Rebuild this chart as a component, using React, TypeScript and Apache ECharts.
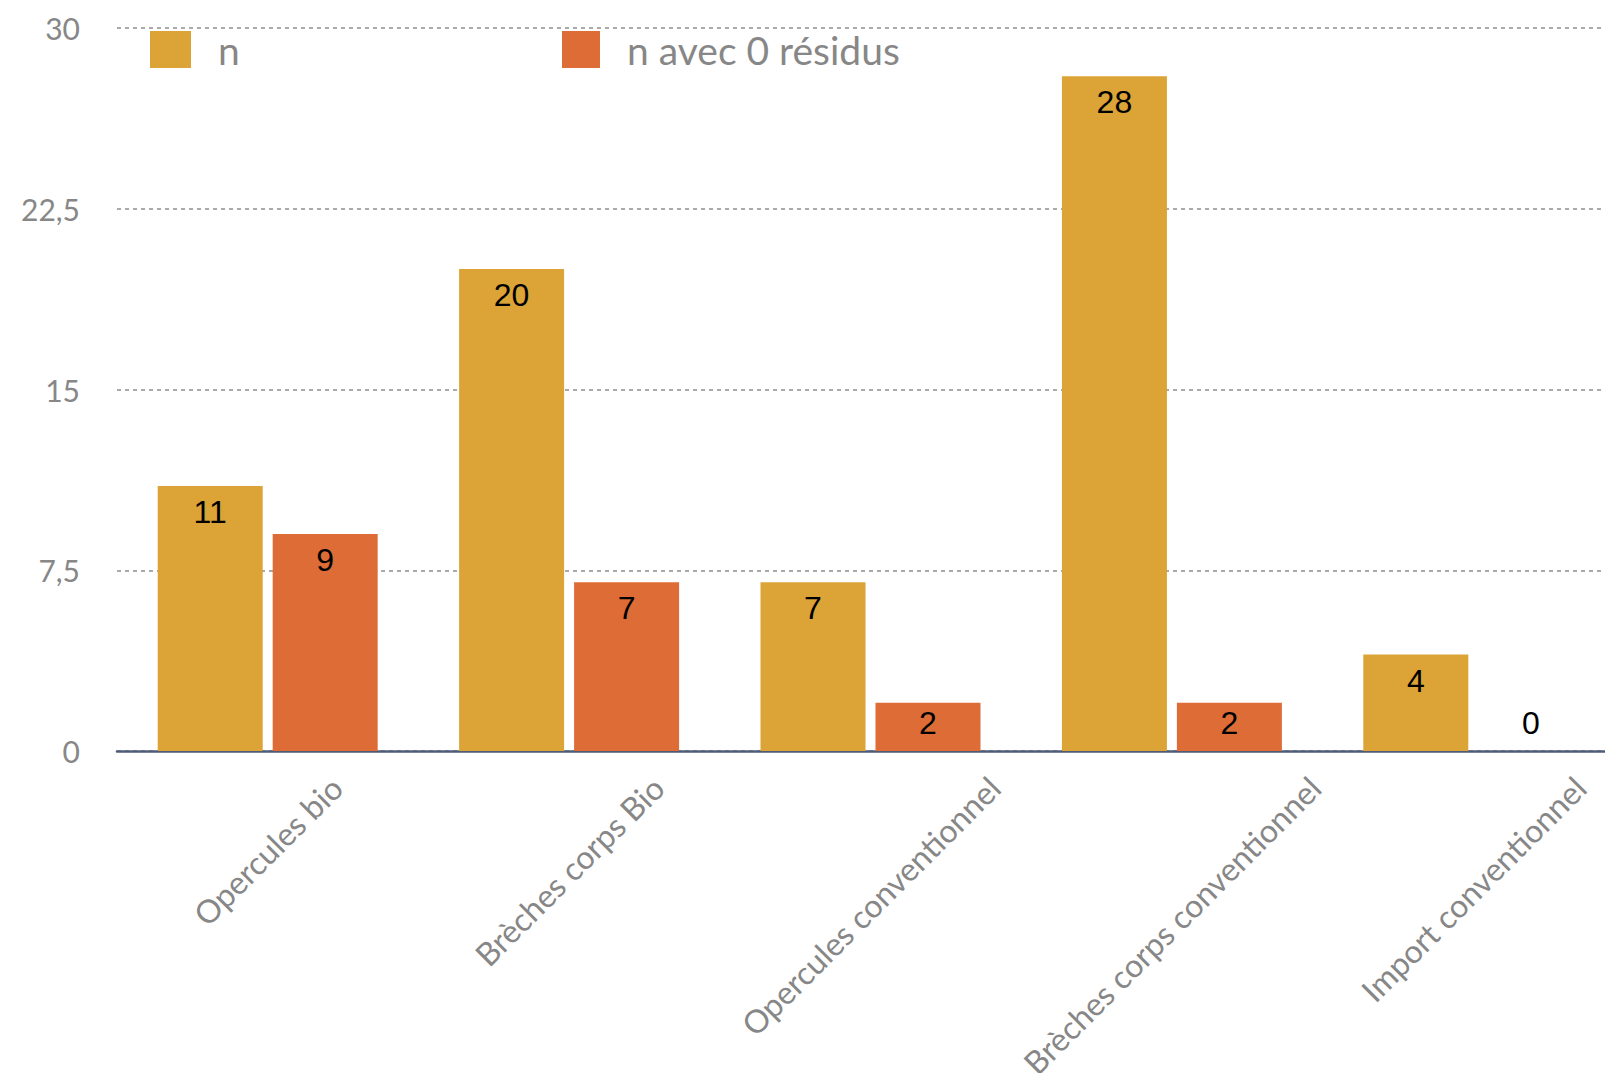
import React, { useEffect, useRef } from "react";
import * as echarts from "echarts";

const categories = [
  "Opercules bio",
  "Brèches corps Bio",
  "Opercules conventionnel",
  "Brèches corps conventionnel",
  "Import conventionnel",
];
const seriesNames = ["n", "n avec 0 résidus"];
const nValues = [11, 20, 7, 28, 4];
const zeroResidueValues = [9, 7, 2, 2, 0];
const yMin = 0;
const yMax = 30;
const yInterval = 7.5;

const colors = ["#DCA337", "#DD6C36"];
const greyText = "#878787";
const labelFont = "Lato";
const xLabelSize = 32;

function measure(text: string, size: number, family: string): number {
  const c = document.createElement("canvas");
  const ctx = c.getContext("2d");
  if (!ctx) return text.length * size * 0.5;
  ctx.font = `${size}px ${family}`;
  return ctx.measureText(text).width;
}

export default function App() {
  const ref = useRef<HTMLDivElement>(null);

  useEffect(() => {
    if (!ref.current) return;
    const chart = echarts.init(ref.current, undefined, { renderer: "svg" });

    const rich: Record<string, any> = {};
    categories.forEach((c, i) => {
      const L = measure(c, xLabelSize, labelFont);
      const p = (L + xLabelSize * 0.8) / 2;
      rich["c" + i] = {
        fontSize: xLabelSize,
        fontFamily: labelFont,
        color: greyText,
        padding: [p, p, 0, 0],
      };
    });

    const dataLabel = {
      show: true,
      position: "insideTop",
      distance: 10,
      fontSize: 32,
      color: "#000",
      fontFamily: "Liberation Sans",
    };

    const withLabelTweaks = (vals: number[]) =>
      vals.map((v) => {
        if (v === 0) return { value: v, label: { position: "top", distance: 12 } };
        if (v <= 2) return { value: v, label: { distance: 4 } };
        return v;
      });

    const legendText = {
      fontSize: 39,
      color: greyText,
      fontFamily: labelFont,
      padding: [0, 0, 0, 22],
    };

    const option: any = {
      animation: false,
      backgroundColor: "#ffffff",
      legend: [
        {
          data: [seriesNames[0]],
          left: 145,
          top: 25,
          icon: "rect",
          itemWidth: 41,
          itemHeight: 37,
          textStyle: legendText,
        },
        {
          data: [seriesNames[1]],
          left: 557,
          top: 25,
          icon: "rect",
          itemWidth: 38,
          itemHeight: 37,
          textStyle: legendText,
        },
      ],
      grid: {
        left: 117,
        top: 28,
        width: 1507,
        height: 723,
        containLabel: false,
        outerBoundsMode: "none",
      },
      xAxis: {
        type: "category",
        data: categories,
        axisLine: { lineStyle: { color: "#4F5C78", width: 2.5 } },
        axisTick: { show: false },
        axisLabel: {
          interval: 0,
          rotate: 45,
          align: "center",
          verticalAlign: "middle",
          margin: 22,
          formatter: (v: string, i: number) => `{c${i}|${v}}`,
          rich,
        },
      },
      yAxis: {
        type: "value",
        min: yMin,
        max: yMax,
        interval: yInterval,
        axisLine: { show: false },
        axisTick: { show: false },
        axisLabel: {
          fontSize: 30,
          fontFamily: labelFont,
          color: greyText,
          margin: 37,
          formatter: (v: number) => String(v).replace(".", ","),
        },
        splitLine: {
          lineStyle: { type: [4, 4], color: "#8f8f8f", width: 1.5 },
        },
      },
      series: [
        {
          name: seriesNames[0],
          type: "bar",
          data: withLabelTweaks(nValues),
          barWidth: 105,
          barGap: "9.5%",
          itemStyle: { color: colors[0] },
          label: dataLabel,
        },
        {
          name: seriesNames[1],
          type: "bar",
          data: withLabelTweaks(zeroResidueValues),
          barWidth: 105,
          itemStyle: { color: colors[1] },
          label: dataLabel,
        },
      ],
    };

    chart.setOption(option);
    return () => chart.dispose();
  }, []);

  return (
    <div
      ref={ref}
      style={{ position: "fixed", left: 0, top: 0, width: 1605, height: 1073 }}
    />
  );
}
